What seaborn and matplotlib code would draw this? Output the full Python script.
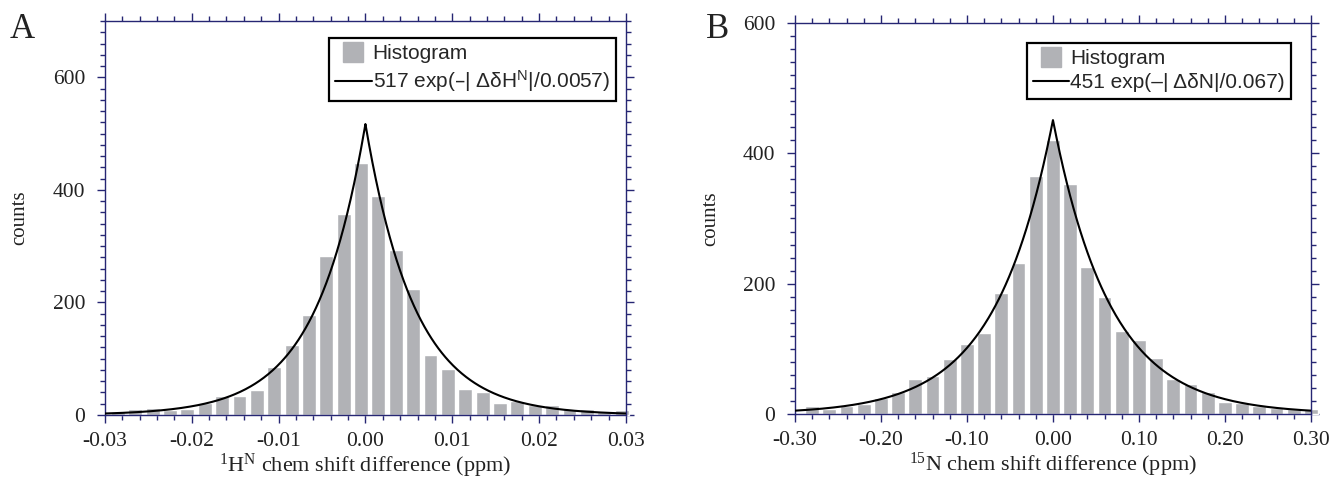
import numpy as np
import matplotlib
matplotlib.use("Agg")
import matplotlib.pyplot as plt
from matplotlib.lines import Line2D
from matplotlib.ticker import MultipleLocator
import seaborn as sns

# ---------------- data ----------------
h_centers = [-0.0285, -0.0265, -0.0245, -0.0225, -0.0205, -0.0185, -0.0165, -0.0145,
             -0.0125, -0.0105, -0.0085, -0.0065, -0.0045, -0.0025, -0.0005, 0.0015,
             0.0035, 0.0055, 0.0075, 0.0095, 0.0115, 0.0135, 0.0155, 0.0175,
             0.0195, 0.0215, 0.0235, 0.0255, 0.0275, 0.0295]
h_counts = [5, 11, 13, 9, 11, 21, 34, 34, 45, 86, 124, 177, 282, 358, 448,
            390, 294, 223, 107, 82, 46, 41, 21, 25, 17, 18, 11, 11, 5, 9]
h_amp, h_width = 517, 0.0057

n_centers = [-0.28, -0.26, -0.24, -0.22, -0.20, -0.18, -0.16, -0.14, -0.12, -0.10,
             -0.08, -0.06, -0.04, -0.02, 0.00, 0.02, 0.04, 0.06, 0.08, 0.10,
             0.12, 0.14, 0.16, 0.18, 0.20, 0.22, 0.24, 0.26, 0.28, 0.30]
n_counts = [13, 8, 12, 15, 25, 33, 53, 59, 85, 108, 125, 185, 232, 365, 420,
            353, 226, 179, 128, 113, 86, 53, 46, 33, 19, 17, 13, 9, 8, 7]
n_amp, n_width = 451, 0.067

h_xticklabels = ["-0.03", "-0.02", "-0.01", "0.00", "0.01", "0.02", "0.03"]
n_xticklabels = ["-0.30", "-0.20", "-0.10", "0.00", "0.10", "0.20", "0.30"]

BAR = "#b1b2b6"
NAVY = "#262673"
TXT = "#222222"

sns.set_style("ticks")
plt.rcParams["font.family"] = ["Liberation Serif", "DejaVu Serif"]

fig = plt.figure(figsize=(13.3, 4.79), dpi=100)
ax1 = fig.add_axes([0.0789, 0.1336, 0.3917, 0.8225])
ax2 = fig.add_axes([0.5977, 0.1357, 0.3880, 0.8163])


def panel(ax, centers, counts, amp, width, lim, ymax, minor,
          xticklabels, xlabel, fit_label, anchor):
    sns.barplot(x=centers, y=counts, native_scale=True, width=0.8,
                color=BAR, saturation=1, ax=ax, zorder=1)
    for p in ax.patches:
        p.set_clip_on(False)

    xs = np.linspace(-lim, lim, 601)
    ys = amp * np.exp(-np.abs(xs) / width)
    sns.lineplot(x=xs, y=ys, color="black", lw=1.5, ax=ax, zorder=3)

    ax.set_xlim(-lim, lim)
    ax.set_ylim(0, ymax)
    ax.set_xticks(np.linspace(-lim, lim, 7))
    ax.set_xticklabels(xticklabels)
    ax.xaxis.set_minor_locator(MultipleLocator(minor))
    ax.set_yticks([0, 200, 400, 600])
    ax.yaxis.set_minor_locator(MultipleLocator(20))

    for s in ax.spines.values():
        s.set_visible(True)
        s.set_color(NAVY)
        s.set_linewidth(1.0)
    ax.tick_params(which="both", direction="out", top=True, right=True,
                   color=NAVY, labelcolor=TXT, labelsize=15.5, width=1.0)
    ax.tick_params(which="major", length=6)
    ax.tick_params(which="minor", length=3.5)
    ax.tick_params(axis="x", pad=6)
    ax.tick_params(axis="y", pad=8)

    ax.set_xlabel(xlabel, fontsize=16, color=TXT, labelpad=1)
    ax.set_ylabel("counts", fontsize=15, color=TXT)
    ax.yaxis.set_label_coords(-0.145, 0.5)

    handles = [
        Line2D([], [], marker="s", linestyle="none", color=BAR,
               markersize=14),
        Line2D([], [], color="black", lw=1.5),
    ]
    leg = ax.legend(handles, ["Histogram", fit_label], loc="upper right",
                    bbox_to_anchor=anchor, borderaxespad=0,
                    prop={"family": "Liberation Sans", "size": 15},
                    fancybox=False, framealpha=1, edgecolor="black",
                    handlelength=1.75, handletextpad=0.05,
                    labelspacing=0.25, borderpad=0.3)
    leg.get_frame().set_linewidth(1.6)


panel(ax1, h_centers, h_counts, h_amp, h_width, 0.03, 700, 0.002,
      h_xticklabels,
      r"$\mathregular{^1}$H$\mathregular{^N}$ chem shift difference (ppm)",
      r"517 exp(–| ΔδH$\mathregular{^N}$|/0.0057)", (0.981, 0.957))
panel(ax2, n_centers, n_counts, n_amp, n_width, 0.30, 600, 0.02,
      n_xticklabels,
      r"$\mathregular{^{15}}$N chem shift difference (ppm)",
      "451 exp(–| ΔδN|/0.067)", (0.962, 0.949))

fig.text(0.0075, 0.921, "A", fontsize=25, va="baseline", color=TXT)
fig.text(0.5305, 0.921, "B", fontsize=25, va="baseline", color=TXT)

fig.savefig("out.png", dpi=100)
